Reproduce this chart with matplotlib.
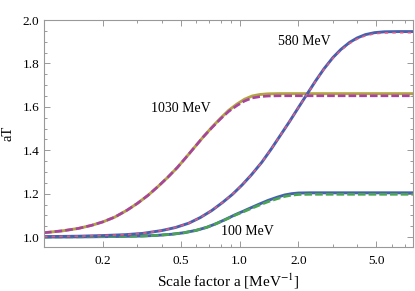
import matplotlib
matplotlib.use("Agg")
import matplotlib.pyplot as plt
from matplotlib.ticker import FixedLocator, FixedFormatter, NullFormatter

plt.rcParams["font.family"] = ["Liberation Serif", "DejaVu Serif"]
plt.rcParams["mathtext.fontset"] = "stix"
plt.rcParams["lines.scale_dashes"] = False

# valeurs
x_100 = [0.1, 0.15, 0.2, 0.25, 0.32, 0.38, 0.45, 0.52, 0.6, 0.68, 0.76, 0.85, 0.95, 1.05, 1.15, 1.27,
         1.4, 1.55, 1.7, 1.85, 2.0, 2.3, 3.0, 7.7]
y_100 = [1.000, 1.001, 1.002, 1.003, 1.005, 1.008, 1.013, 1.020, 1.031, 1.045, 1.062, 1.082, 1.103, 1.120,
         1.136, 1.153, 1.169, 1.183, 1.194, 1.200, 1.203, 1.204, 1.204, 1.204]
y_100_dash = [1.000, 1.001, 1.002, 1.003, 1.005, 1.008, 1.013, 1.020, 1.031, 1.045, 1.062, 1.081, 1.101, 1.117,
              1.132, 1.148, 1.163, 1.176, 1.187, 1.193, 1.196, 1.197, 1.197, 1.197]

x_580 = [0.1, 0.15, 0.2, 0.26, 0.32, 0.4, 0.47, 0.55, 0.63, 0.72, 0.82, 0.92, 1.03, 1.15, 1.3, 1.45, 1.62,
         1.8, 2.0, 2.2, 2.45, 2.7, 3.0, 3.3, 3.65, 4.0, 4.4, 4.9, 5.5, 6.5, 7.7]
y_580 = [1.002, 1.004, 1.007, 1.011, 1.017, 1.030, 1.044, 1.064, 1.090, 1.122, 1.160, 1.197, 1.240, 1.287,
         1.345, 1.405, 1.470, 1.532, 1.597, 1.655, 1.720, 1.775, 1.827, 1.865, 1.897, 1.918, 1.933, 1.942,
         1.946, 1.947, 1.947]
y_580_dash = [1.002, 1.004, 1.007, 1.011, 1.017, 1.030, 1.044, 1.064, 1.090, 1.122, 1.160, 1.197, 1.240, 1.287,
              1.345, 1.405, 1.470, 1.532, 1.597, 1.655, 1.719, 1.773, 1.824, 1.861, 1.892, 1.913, 1.928, 1.937,
              1.941, 1.942, 1.942]

x_1030 = [0.1, 0.125, 0.15, 0.175, 0.2, 0.23, 0.265, 0.3, 0.34, 0.385, 0.43, 0.48, 0.53, 0.59, 0.65, 0.72,
          0.8, 0.88, 0.97, 1.06, 1.16, 1.27, 1.4, 1.6, 2.0, 7.7]
y_1030 = [1.020, 1.029, 1.040, 1.054, 1.070, 1.092, 1.123, 1.155, 1.192, 1.235, 1.276, 1.320, 1.365, 1.415,
          1.460, 1.505, 1.548, 1.584, 1.613, 1.635, 1.650, 1.657, 1.660, 1.661, 1.661, 1.661]
y_1030_dash = [1.020, 1.029, 1.040, 1.054, 1.070, 1.092, 1.123, 1.155, 1.192, 1.235, 1.276, 1.320, 1.365, 1.415,
               1.460, 1.503, 1.545, 1.579, 1.606, 1.627, 1.641, 1.647, 1.650, 1.651, 1.651, 1.651]

labels = ["100 MeV", "580 MeV", "1030 MeV"]
label_pos = [(1.10, 1.028), (2.15, 1.899), (0.50, 1.593)]

x_ticks = [0.2, 0.5, 1.0, 2.0, 5.0]
x_ticklabels = ["0.2", "0.5", "1.0", "2.0", "5.0"]
x_minor = [0.3, 0.4, 0.6, 0.7, 0.8, 0.9, 3, 4, 6, 7]
y_ticks = [1.0, 1.2, 1.4, 1.6, 1.8, 2.0]

blue = "#4660ae"
green = "#4aa552"
olive = "#b3a244"
magenta = "#a8449e"
pink = "#dc5a86"

fig = plt.figure(figsize=(4.15, 2.91), dpi=100)
ax = fig.add_axes([0.106, 0.151, 0.889, 0.780])

# 100 MeV
ax.plot(x_100, y_100, color=blue, lw=2.1)
ax.plot(x_100, y_100_dash, color=green, lw=1.9, dashes=(5.5, 2.2))
# 1030 MeV
ax.plot(x_1030, y_1030, color=olive, lw=2.1)
ax.plot(x_1030, y_1030_dash, color=magenta, lw=1.9, dashes=(5.5, 2.2))
# 580 MeV
ax.plot(x_580, y_580, color=blue, lw=2.1)
ax.plot(x_580, y_580_dash, color=pink, lw=1.2, dashes=(2.5, 3.0))

for txt, (tx, ty) in zip(labels, label_pos):
    ax.text(tx, ty, txt, fontsize=10, ha="center", va="center")

ax.set_xscale("log")
ax.set_xlim(0.1, 7.7)
ax.set_ylim(0.954, 2.0)

ax.xaxis.set_major_locator(FixedLocator(x_ticks))
ax.xaxis.set_major_formatter(FixedFormatter(x_ticklabels))
ax.xaxis.set_minor_locator(FixedLocator(x_minor))
ax.xaxis.set_minor_formatter(NullFormatter())
ax.set_yticks(y_ticks)
ax.set_yticklabels([f"{v:.1f}" for v in y_ticks])
ax.set_yticks([v / 100 for v in range(100, 200, 5)], minor=True)

frame = "#999999"
for s in ax.spines.values():
    s.set_color(frame)
    s.set_linewidth(0.8)
ax.tick_params(which="both", direction="in", top=True, right=True, color=frame, width=0.7, labelsize=9.5)
ax.tick_params(which="major", length=4)
ax.tick_params(which="minor", length=2)
ax.tick_params(axis="x", pad=6)

ax.set_xlabel("Scale factor a [MeV$^{-1}$]", fontsize=11, labelpad=3)
ax.set_ylabel("aT", fontsize=10.5, labelpad=6)

fig.savefig("out.png", dpi=100)
